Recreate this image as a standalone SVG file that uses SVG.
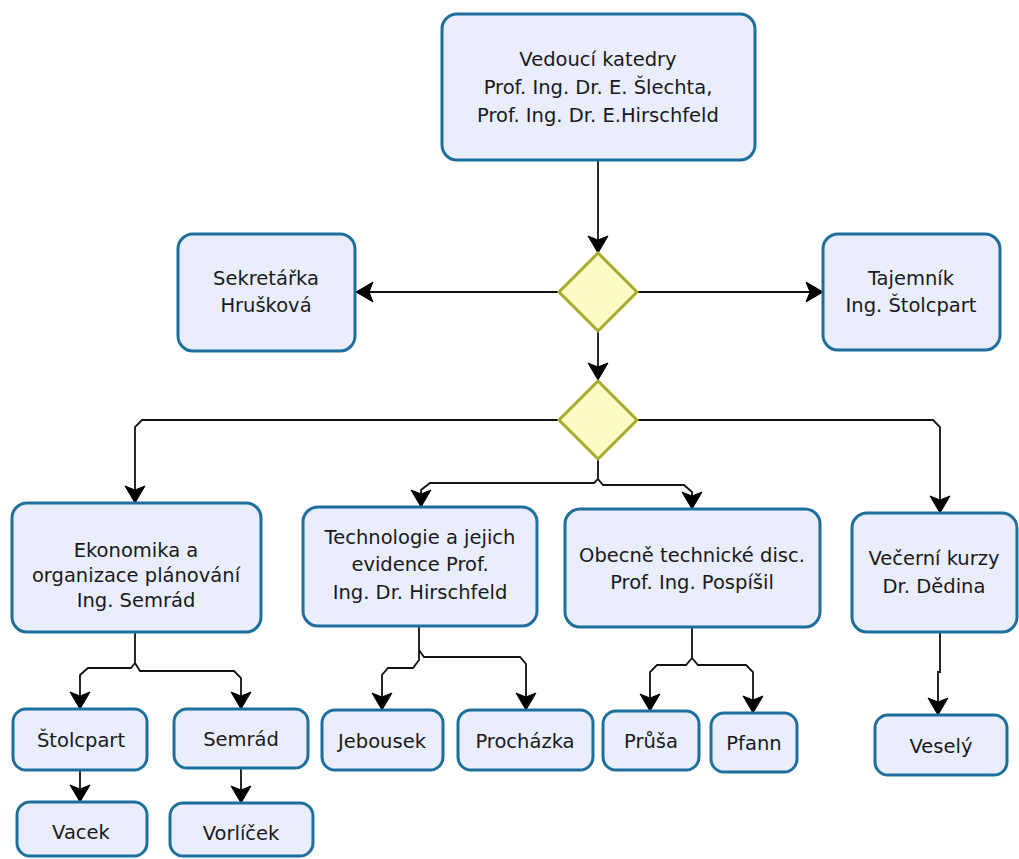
<svg xmlns="http://www.w3.org/2000/svg" width="1019" height="859" viewBox="0 0 1019 859">
<defs>
<style>
.box{fill:#e9edfc;stroke:#1e6f9c;stroke-width:3}
.dia{fill:#fbfbc8;stroke:#a9a92a;stroke-width:3}
.t{font-family:"DejaVu Sans",sans-serif;font-size:19.5px;fill:#1a1a1a;text-anchor:middle}
.c{fill:none;stroke:#111;stroke-width:1.8}
</style>
<marker id="ar" markerUnits="userSpaceOnUse" markerWidth="22" markerHeight="24" viewBox="-2 -12 22 24" refX="17" refY="0" orient="auto">
<path d="M17,0 L0,-10 L4,0 L0,10 Z" fill="#000" stroke="#000" stroke-width="1" stroke-linejoin="round"/>
</marker>
</defs>
<g id="connectors">
<path class="c" d="M598,161 V253" marker-end="url(#ar)"/>
<path class="c" d="M559,292 H356" marker-end="url(#ar)"/>
<path class="c" d="M638,292 H823" marker-end="url(#ar)"/>
<path class="c" d="M598,331 V380" marker-end="url(#ar)"/>
<path class="c" d="M559,420 H142 L135,427 V503" marker-end="url(#ar)"/>
<path class="c" d="M638,420 H933 L940,427 V513" marker-end="url(#ar)"/>
<path class="c" d="M598,459 V479 L594,483 H430 L421,490 V507" marker-end="url(#ar)"/>
<path class="c" d="M598,479 L603,485 H684 L692,492 V509" marker-end="url(#ar)"/>
<path class="c" d="M135,632 V663 L131,668 H88 L80,675 V709" marker-end="url(#ar)"/>
<path class="c" d="M135,663 L140,671 H234 L241,678 V709" marker-end="url(#ar)"/>
<path class="c" d="M80,770 V802" marker-end="url(#ar)"/>
<path class="c" d="M241,768 V803" marker-end="url(#ar)"/>
<path class="c" d="M419,626 V660 L413,668 H388 L382,675 V710" marker-end="url(#ar)"/>
<path class="c" d="M419,650 L424,657 H520 L526,664 V710" marker-end="url(#ar)"/>
<path class="c" d="M692,627 V658 L686,665 H657 L650,672 V711" marker-end="url(#ar)"/>
<path class="c" d="M692,658 L698,665 H746 L753,672 V713" marker-end="url(#ar)"/>
<path class="c" d="M940,632 V672 H938 V715" marker-end="url(#ar)"/>
</g>
<g id="n-vedouci">
<rect class="box" x="442" y="14" width="313" height="146" rx="15"/>
<text class="t" x="598" y="66">Vedoucí katedry</text>
<text class="t" x="598" y="94">Prof. Ing. Dr. E. Šlechta,</text>
<text class="t" x="598" y="122">Prof. Ing. Dr. E.Hirschfeld</text>
</g>
<g id="d1"><path class="dia" d="M598,253 L637,292 L598,331 L559,292 Z"/></g>
<g id="d2"><path class="dia" d="M598,381 L637,420 L598,459 L559,420 Z"/></g>
<g id="n-sekretarka">
<rect class="box" x="178" y="234" width="177" height="117" rx="15"/>
<text class="t" x="266" y="285">Sekretářka</text>
<text class="t" x="266" y="312">Hrušková</text>
</g>
<g id="n-tajemnik">
<rect class="box" x="823" y="234" width="177" height="116" rx="15"/>
<text class="t" x="911" y="285">Tajemník</text>
<text class="t" x="911" y="312">Ing. Štolcpart</text>
</g>
<g id="n-ekonomika">
<rect class="box" x="12" y="503" width="249" height="129" rx="15"/>
<text class="t" x="136" y="557">Ekonomika a</text>
<text class="t" x="136" y="582">organizace plánování</text>
<text class="t" x="136" y="607">Ing. Semrád</text>
</g>
<g id="n-technologie">
<rect class="box" x="303" y="507" width="234" height="119" rx="15"/>
<text class="t" x="420" y="544">Technologie a jejich</text>
<text class="t" x="420" y="571">evidence Prof.</text>
<text class="t" x="420" y="599">Ing. Dr. Hirschfeld</text>
</g>
<g id="n-obecne">
<rect class="box" x="565" y="509" width="255" height="118" rx="15"/>
<text class="t" x="692" y="562">Obecně technické disc.</text>
<text class="t" x="692" y="589">Prof. Ing. Pospíšil</text>
</g>
<g id="n-vecerni">
<rect class="box" x="852" y="513" width="165" height="119" rx="15"/>
<text class="t" x="934" y="565">Večerní kurzy</text>
<text class="t" x="934" y="593">Dr. Dědina</text>
</g>
<g id="n-stolcpart">
<rect class="box" x="13" y="709" width="134" height="61" rx="13"/>
<text class="t" x="81" y="747">Štolcpart</text>
</g>
<g id="n-semrad">
<rect class="box" x="174" y="709" width="134" height="59" rx="13"/>
<text class="t" x="241" y="746">Semrád</text>
</g>
<g id="n-vacek">
<rect class="box" x="17" y="802" width="130" height="54" rx="13"/>
<text class="t" x="81" y="839">Vacek</text>
</g>
<g id="n-vorlicek">
<rect class="box" x="170" y="803" width="143" height="53" rx="13"/>
<text class="t" x="241" y="840">Vorlíček</text>
</g>
<g id="n-jebousek">
<rect class="box" x="322" y="710" width="121" height="60" rx="13"/>
<text class="t" x="382" y="748">Jebousek</text>
</g>
<g id="n-prochazka">
<rect class="box" x="458" y="710" width="135" height="60" rx="13"/>
<text class="t" x="525" y="748">Procházka</text>
</g>
<g id="n-prusa">
<rect class="box" x="603" y="711" width="96" height="59" rx="13"/>
<text class="t" x="651" y="748">Průša</text>
</g>
<g id="n-pfann">
<rect class="box" x="711" y="713" width="86" height="59" rx="13"/>
<text class="t" x="754" y="750">Pfann</text>
</g>
<g id="n-vesely">
<rect class="box" x="875" y="715" width="132" height="60" rx="13"/>
<text class="t" x="941" y="753">Veselý</text>
</g>
</svg>
